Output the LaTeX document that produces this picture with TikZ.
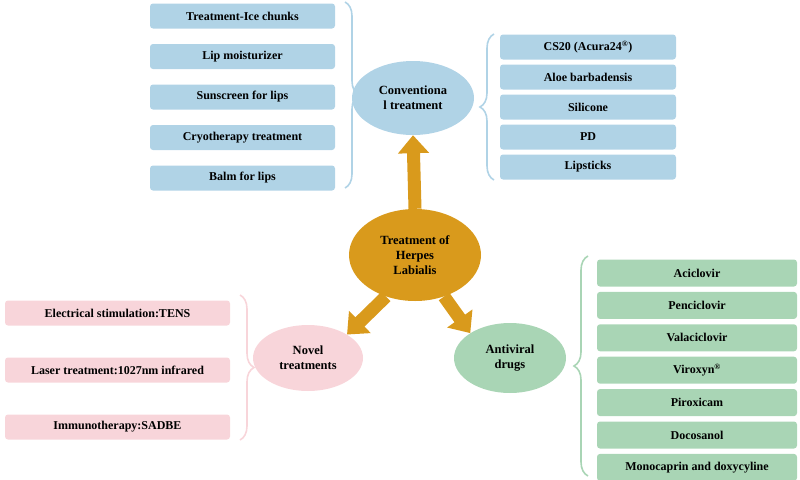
\documentclass[tikz,border=0pt]{standalone}
\usepackage{fontspec}
\setmainfont{Liberation Serif}
\usetikzlibrary{shapes.geometric,arrows.meta,positioning,decorations.pathreplacing}
\definecolor{blueb}{HTML}{B0D3E6}
\definecolor{pinkb}{HTML}{F8D5DA}
\definecolor{greenb}{HTML}{A9D5B5}
\definecolor{orangec}{HTML}{D99A1C}
\tikzset{
  item/.style={rounded corners=3pt, minimum height=25pt, font=\bfseries\fontsize{12}{13}\selectfont, inner sep=0pt},
  oval/.style={ellipse, align=center, font=\bfseries\fontsize{12.5}{15}\selectfont, inner sep=0pt},
  brc/.style={decorate, decoration={brace, amplitude=14pt}, line width=1.6pt},
  fat/.style={line width=13pt, orangec, -{Triangle[width=30pt,length=18pt]}}
}
\begin{document}
\begin{tikzpicture}[x=1pt,y=-1pt]
\useasboundingbox (0,0) rectangle (800,479);

% centre
\node (herpes) [oval, fill=orangec, minimum width=132pt, minimum height=92pt] at (415,255) {Treatment of\\Herpes\\Labialis};
\node (conv) [oval, fill=blueb, minimum width=122pt, minimum height=74pt] at (413,98) {Conventiona\\l treatment};
\node (novel) [oval, fill=pinkb, minimum width=110pt, minimum height=66pt] at (308,358) {Novel\\treatments};
\node (anti) [oval, fill=greenb, minimum width=112pt, minimum height=70pt] at (510,358) {Antiviral\\drugs};

\draw[fat] (herpes.north) -- (conv.south);
\draw[fat] (herpes.235) -- (novel.north east);
\draw[fat] (herpes.305) -- (anti.north west);

% conventional, left
\foreach \t [count=\i] in {Treatment-Ice chunks,Lip moisturizer,Sunscreen for lips,Cryotherapy treatment,Balm for lips}
  \node (cl\i) [item, fill=blueb, minimum width=185pt] at (242.5,{16+40.5*(\i-1)}) {\t};
\draw[brc, blueb] (345,2) -- (345,188);
% conventional, right
\foreach \t [count=\i] in {CS20 (Acura24\textsuperscript{\textregistered}),Aloe barbadensis,Silicone,PD,Lipsticks}
  \node (cr\i) [item, fill=blueb, minimum width=176pt] at (588,{47+30*(\i-1)}) {\t};
\draw[brc, blueb] (494,180) -- (494,34);

% novel
\foreach \t [count=\i] in {Electrical stimulation:TENS,Laser treatment:1027nm infrared,Immunotherapy:SADBE}
  \node (nv\i) [item, fill=pinkb, minimum width=225pt] at (117.5,{313+57*(\i-1)}) {\t};
\draw[brc, pinkb] (240,295) -- (240,440);

% antiviral
\foreach \t [count=\i] in {Aciclovir,Penciclovir,Valaciclovir,Viroxyn\textsuperscript{\textregistered},Piroxicam,Docosanol,Monocaprin and doxycyline}
  \node (av\i) [item, fill=greenb, minimum width=200pt, minimum height=27pt] at (697,{273+32.4*(\i-1)}) {\t};
\draw[brc, greenb] (588,476) -- (588,256);
\end{tikzpicture}
\end{document}
